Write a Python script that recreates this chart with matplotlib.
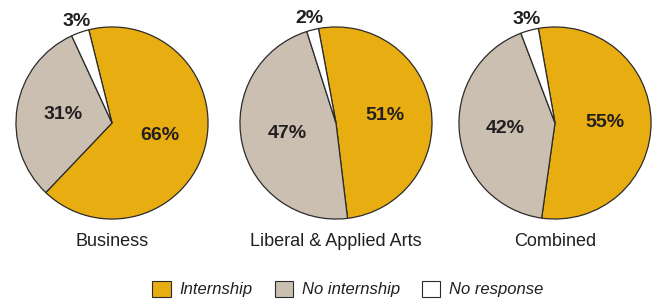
import matplotlib
matplotlib.use("Agg")
import matplotlib.pyplot as plt
import matplotlib.patches as mpatches
import numpy as np

plt.rcParams['font.family'] = ['Liberation Sans Narrow', 'Liberation Sans', 'DejaVu Sans']

# datos
grupos = ["Business", "Liberal & Applied Arts", "Combined"]
categorias = ["Internship", "No internship", "No response"]
business = [66, 31, 3]
liberal_arts = [51, 47, 2]
combined = [55, 42, 3]
valores = [business, liberal_arts, combined]

colores = ["#E8AD10", "#CBBFB1", "#FFFFFF"]
texto = "#231F20"
inicio = [104, 100.5, 100]
centros_x = [112, 336, 555]   # px
radio = 97
centro_y = 123

fig = plt.figure(figsize=(6.59, 3.06), dpi=100)
W, H = 659, 306

for grupo, vals, ang, cx in zip(grupos, valores, inicio, centros_x):
    ax = fig.add_axes([(cx - radio) / W, (H - centro_y - radio) / H,
                       2 * radio / W, 2 * radio / H])
    wedges, _ = ax.pie(vals, colors=colores, startangle=ang, counterclock=False,
                       wedgeprops=dict(edgecolor="#2b2b2b", linewidth=0.9))
    for w, v in zip(wedges, vals):
        mid = np.deg2rad((w.theta1 + w.theta2) / 2)
        r = 0.52 if v > 10 else 1.12
        ax.text(r * np.cos(mid), r * np.sin(mid), f"{v}%", ha="center", va="center",
                fontsize=14, fontweight="bold", color=texto)
    ax.set_xlim(-1.01, 1.01)
    ax.set_ylim(-1.01, 1.01)
    ax.set_aspect("equal")
    ax.axis("off")
    fig.text(cx / W, 1 - 241 / H, grupo, ha="center", va="center",
             fontsize=13, color=texto)

handles = [mpatches.Patch(facecolor=c, edgecolor="#2b2b2b", linewidth=0.8, label=l)
           for c, l in zip(colores, categorias)]
leg = fig.legend(handles=handles, loc="center", bbox_to_anchor=(0.528, 1 - 289 / H),
                 ncol=3, frameon=False, handlelength=1.1, handleheight=1.1,
                 handletextpad=0.55, columnspacing=1.3,
                 prop=dict(size=12, style="italic"))
for t in leg.get_texts():
    t.set_color(texto)

fig.savefig("out.png", dpi=100)
